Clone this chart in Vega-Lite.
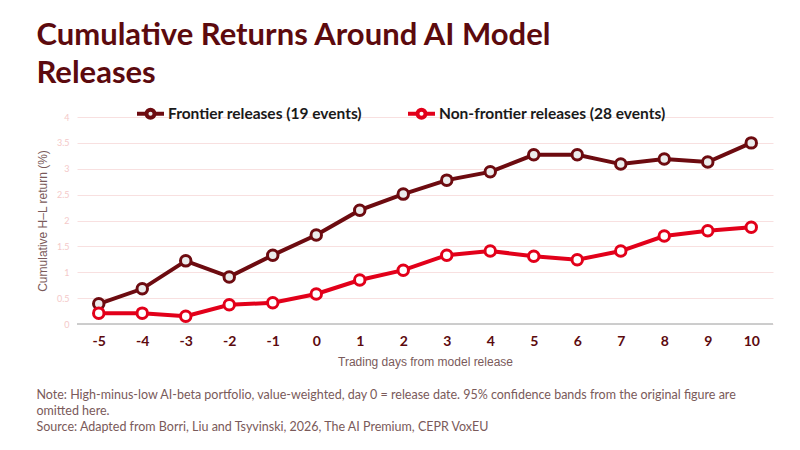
{
  "$schema": "https://vega.github.io/schema/vega-lite/v6.json",
  "background": "white",
  "padding": {"left": 36, "top": 20, "right": 10, "bottom": 10},
  "title": {
    "text": ["Cumulative Returns Around AI Model", "Releases"],
    "anchor": "start",
    "frame": "bounds",
    "font": "Lato",
    "fontSize": 31,
    "fontWeight": "bold",
    "color": "#5c0a0e",
    "lineHeight": 38,
    "offset": 8
  },
  "config": {
    "view": {"stroke": null},
    "axis": {"labelFont": "Lato", "titleFont": "Liberation Sans", "titleFontWeight": "normal"}
  },
  "vconcat": [
    {
      "width": 696,
      "height": 207,
      "title": {
        "text": [
          "Note: High-minus-low AI-beta portfolio, value-weighted, day 0 = release date. 95% confidence bands from the original figure are",
          "omitted here.",
          "Source: Adapted from Borri, Liu and Tsyvinski, 2026, The AI Premium, CEPR VoxEU"
        ],
        "orient": "bottom",
        "anchor": "start",
        "frame": "bounds",
        "font": "Lato",
        "fontSize": 12.5,
        "fontWeight": "normal",
        "color": "#7a5a5a",
        "lineHeight": 16,
        "offset": 22
      },
      "data": {
        "values": [
          {"day": -5, "series": "Frontier releases (19 events)", "ret": 0.39},
          {"day": -4, "series": "Frontier releases (19 events)", "ret": 0.68},
          {"day": -3, "series": "Frontier releases (19 events)", "ret": 1.22},
          {"day": -2, "series": "Frontier releases (19 events)", "ret": 0.91},
          {"day": -1, "series": "Frontier releases (19 events)", "ret": 1.33},
          {"day": 0, "series": "Frontier releases (19 events)", "ret": 1.72},
          {"day": 1, "series": "Frontier releases (19 events)", "ret": 2.2},
          {"day": 2, "series": "Frontier releases (19 events)", "ret": 2.51},
          {"day": 3, "series": "Frontier releases (19 events)", "ret": 2.78},
          {"day": 4, "series": "Frontier releases (19 events)", "ret": 2.94},
          {"day": 5, "series": "Frontier releases (19 events)", "ret": 3.27},
          {"day": 6, "series": "Frontier releases (19 events)", "ret": 3.27},
          {"day": 7, "series": "Frontier releases (19 events)", "ret": 3.09},
          {"day": 8, "series": "Frontier releases (19 events)", "ret": 3.19},
          {"day": 9, "series": "Frontier releases (19 events)", "ret": 3.13},
          {"day": 10, "series": "Frontier releases (19 events)", "ret": 3.5},
          {"day": -5, "series": "Non-frontier releases (28 events)", "ret": 0.21},
          {"day": -4, "series": "Non-frontier releases (28 events)", "ret": 0.21},
          {"day": -3, "series": "Non-frontier releases (28 events)", "ret": 0.15},
          {"day": -2, "series": "Non-frontier releases (28 events)", "ret": 0.37},
          {"day": -1, "series": "Non-frontier releases (28 events)", "ret": 0.41},
          {"day": 0, "series": "Non-frontier releases (28 events)", "ret": 0.58},
          {"day": 1, "series": "Non-frontier releases (28 events)", "ret": 0.85},
          {"day": 2, "series": "Non-frontier releases (28 events)", "ret": 1.04},
          {"day": 3, "series": "Non-frontier releases (28 events)", "ret": 1.33},
          {"day": 4, "series": "Non-frontier releases (28 events)", "ret": 1.41},
          {"day": 5, "series": "Non-frontier releases (28 events)", "ret": 1.31},
          {"day": 6, "series": "Non-frontier releases (28 events)", "ret": 1.24},
          {"day": 7, "series": "Non-frontier releases (28 events)", "ret": 1.41},
          {"day": 8, "series": "Non-frontier releases (28 events)", "ret": 1.7},
          {"day": 9, "series": "Non-frontier releases (28 events)", "ret": 1.8},
          {"day": 10, "series": "Non-frontier releases (28 events)", "ret": 1.87}
        ]
      },
      "encoding": {
        "x": {
          "field": "day",
          "type": "ordinal",
          "scale": {"type": "point", "padding": 0.5},
          "axis": {
            "title": "Trading days from model release",
            "titleColor": "#7a5a5a",
            "titleFontSize": 12,
            "titlePadding": 8,
            "labelAngle": 0,
            "labelFontSize": 14,
            "labelFontWeight": "bold",
            "labelColor": "#5c0a0e",
            "labelPadding": 10,
            "ticks": false,
            "domain": false,
            "grid": false
          }
        },
        "y": {
          "field": "ret",
          "type": "quantitative",
          "scale": {"domain": [0, 4], "nice": false},
          "axis": {
            "title": "Cumulative H\u2013L return (%)",
            "titleColor": "#7a5a5a",
            "titleFontSize": 12,
            "titlePadding": 7,
            "values": [0, 0.5, 1, 1.5, 2, 2.5, 3, 3.5, 4],
            "format": "~g",
            "labelFontSize": 9,
            "labelColor": "#f4c9c9",
            "labelPadding": 8,
            "ticks": false,
            "domain": false,
            "gridColor": "#f8e0e0",
            "gridWidth": 1
          }
        }
      },
      "layer": [
        {
          "mark": {"type": "rule", "color": "#cccccc", "strokeWidth": 1},
          "encoding": {"x": null, "y": {"datum": 0}, "color": null}
        },
        {
          "mark": {"type": "line", "strokeWidth": 4},
          "encoding": {
            "color": {
              "field": "series",
              "type": "nominal",
              "scale": {
                "domain": ["Frontier releases (19 events)", "Non-frontier releases (28 events)"],
                "range": ["#6d0b10", "#e2001a"]
              },
              "legend": {
                "title": null,
                "orient": "none",
                "legendX": 58,
                "legendY": -19,
                "direction": "horizontal",
                "columnPadding": 38,
                "symbolType": "M-1,0H-0.3M0.3,0H1M-0.3,0A0.3,0.3 0 1,0 0.3,0A0.3,0.3 0 1,0 -0.3,0",
                "symbolSize": 729,
                "symbolStrokeWidth": 4,
                "symbolFillColor": "#ffffff",
                "labelFont": "Lato",
                "labelFontSize": 15.5,
                "labelFontWeight": "bold",
                "labelColor": "#1a1a1a",
                "labelOffset": 2,
                "labelLimit": 0
              }
            }
          }
        },
        {
          "mark": {"type": "point", "filled": false, "size": 110, "strokeWidth": 3, "opacity": 1},
          "encoding": {
            "stroke": {
              "field": "series",
              "type": "nominal",
              "scale": {
                "domain": ["Frontier releases (19 events)", "Non-frontier releases (28 events)"],
                "range": ["#6d0b10", "#e2001a"]
              },
              "legend": null
            },
            "fill": {
              "field": "series",
              "type": "nominal",
              "scale": {
                "domain": ["Frontier releases (19 events)", "Non-frontier releases (28 events)"],
                "range": ["#ececec", "#ffffff"]
              },
              "legend": null
            }
          }
        }
      ]
    }
  ]
}
